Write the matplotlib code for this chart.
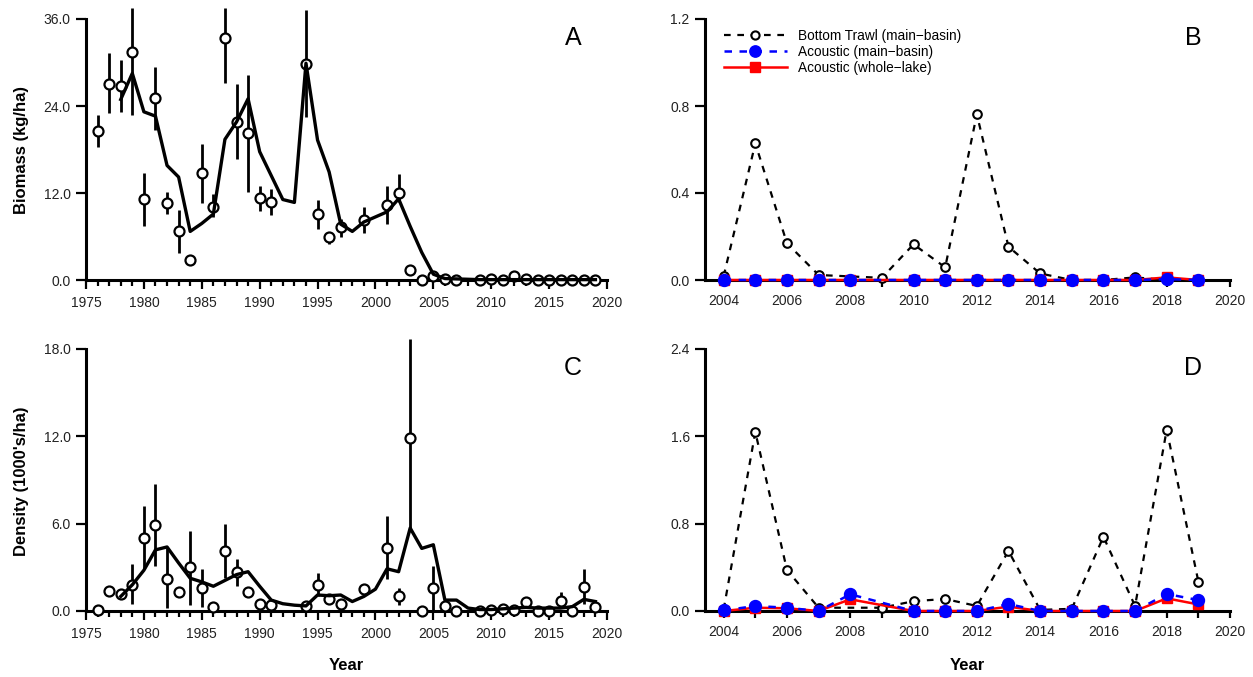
import matplotlib
matplotlib.use("Agg")
import matplotlib.pyplot as plt
from matplotlib.ticker import MultipleLocator, FormatStrFormatter

plt.rcParams['font.family'] = ['Liberation Sans', 'DejaVu Sans']

# ---------------- Data: panels A / C (long-term survey) ----------------
pt_years = [1976, 1977, 1978, 1979, 1980, 1981, 1982, 1983, 1984, 1985, 1986,
            1987, 1988, 1989, 1990, 1991, 1994, 1995, 1996, 1997, 1999,
            2001, 2002, 2003, 2004, 2005, 2006, 2007, 2009, 2010, 2011,
            2012, 2013, 2014, 2015, 2016, 2017, 2018, 2019]
biomass = [20.6, 27.1, 26.8, 31.4, 11.2, 25.1, 10.6, 6.7, 2.7, 14.7, 10.1,
           33.4, 21.8, 20.3, 11.3, 10.7, 29.8, 9.1, 5.9, 7.3, 8.3,
           10.4, 12.0, 1.4, 0.0, 0.6, 0.2, 0.0, 0.0, 0.1, 0.05,
           0.6, 0.1, 0.0, 0.0, 0.0, 0.0, 0.0, 0.0]
biomass_lo = [18.4, 23.0, 23.2, 22.7, 7.5, 20.7, 9.1, 3.7, 2.7, 10.6, 8.7,
              27.2, 16.7, 12.1, 9.5, 8.9, 22.5, 7.1, 5.0, 5.9, 6.5,
              7.7, 10.8, 1.4, 0.0, 0.2, 0.2, 0.0, 0.0, 0.1, 0.05,
              0.4, 0.1, 0.0, 0.0, 0.0, 0.0, 0.0, 0.0]
biomass_hi = [22.7, 31.3, 30.4, 37.5, 14.8, 29.4, 12.1, 9.7, 2.7, 18.7, 11.9,
              37.5, 27.0, 28.3, 13.0, 12.6, 37.2, 11.0, 6.6, 8.4, 10.1,
              13.0, 14.6, 1.4, 0.0, 1.0, 0.2, 0.0, 0.0, 0.1, 0.05,
              0.8, 0.1, 0.0, 0.0, 0.0, 0.0, 0.0, 0.0]
density = [0.1, 1.4, 1.2, 1.8, 5.0, 5.9, 2.2, 1.3, 3.0, 1.6, 0.3,
           4.1, 2.7, 1.3, 0.5, 0.4, 0.35, 1.8, 0.8, 0.5, 1.5,
           4.3, 1.0, 11.9, 0.0, 1.6, 0.35, 0.0, 0.0, 0.1, 0.15,
           0.1, 0.6, 0.0, 0.0, 0.7, 0.0, 1.65, 0.25]
density_lo = [0.1, 1.2, 1.1, 0.5, 2.9, 3.1, 0.2, 1.3, 0.4, 0.3, 0.3,
              2.3, 1.7, 1.3, 0.5, 0.4, 0.35, 1.0, 0.8, 0.5, 1.2,
              2.2, 0.4, 5.6, 0.0, 0.1, 0.35, 0.0, 0.0, 0.1, 0.15,
              0.1, 0.4, 0.0, 0.0, 0.3, 0.0, 0.5, 0.25]
density_hi = [0.1, 1.7, 1.4, 3.2, 7.2, 8.7, 4.3, 1.3, 5.5, 2.9, 0.3,
              6.0, 3.6, 1.3, 0.5, 0.4, 0.35, 2.6, 0.8, 0.5, 1.8,
              6.5, 1.6, 18.7, 0.0, 3.1, 0.35, 0.0, 0.0, 0.1, 0.15,
              0.1, 0.9, 0.0, 0.0, 1.3, 0.0, 2.9, 0.25]

trend_years = list(range(1978, 2020))
biomass_trend = [24.9, 28.5, 23.2, 22.6, 15.8, 14.2, 6.7, 7.8, 9.1, 19.4,
                 21.8, 25.0, 17.7, 14.4, 11.1, 10.7, 29.9, 19.3, 14.9, 7.7,
                 6.7, 8.0, 8.7, 9.4, 11.2, 7.4, 3.8, 0.8, 0.2, 0.15,
                 0.1, 0.05, 0.05, 0.05, 0.05, 0.05, 0.05, 0.05, 0.05, 0.05,
                 0.05, 0.05]
density_trend = [1.0, 1.8, 2.8, 4.2, 4.4, 3.3, 2.25, 2.0, 1.7, 2.1,
                 2.5, 2.7, 1.7, 0.75, 0.5, 0.4, 0.35, 1.1, 1.05, 1.1,
                 0.65, 1.0, 1.5, 2.9, 2.7, 5.7, 4.3, 4.55, 0.75, 0.75,
                 0.2, 0.1, 0.1, 0.15, 0.2, 0.25, 0.2, 0.2, 0.2, 0.3,
                 0.8, 0.65]

# ---------------- Data: panels B / D (recent surveys) ----------------
bt_years = [2004, 2005, 2006, 2007, 2009, 2010, 2011, 2012, 2013, 2014,
            2015, 2016, 2017, 2018, 2019]
bt_biomass = [0.018, 0.628, 0.169, 0.023, 0.01, 0.164, 0.058, 0.762, 0.153,
              0.03, 0.0, 0.0, 0.012, 0.0, 0.0]
bt_density = [0.015, 1.64, 0.376, 0.03, 0.03, 0.09, 0.11, 0.046, 0.55,
              0.01, 0.02, 0.68, 0.046, 1.66, 0.27]

ac_years = [2004, 2005, 2006, 2007, 2008, 2010, 2011, 2012, 2013, 2014,
            2015, 2016, 2017, 2018, 2019]
ac_main_biomass = [0.0, 0.0, 0.0, 0.0, 0.0, 0.0, 0.0, 0.0, 0.0, 0.0,
                   0.0, 0.0, 0.0, 0.004, 0.0]
ac_whole_biomass = [0.0, 0.0, 0.0, 0.0, 0.0, 0.0, 0.0, 0.0, 0.0, 0.0,
                    0.0, 0.0, 0.0, 0.012, 0.0]
ac_main_density = [0.005, 0.046, 0.03, 0.0, 0.153, 0.0, 0.0, 0.0, 0.064,
                   0.0, 0.0, 0.0, 0.0, 0.156, 0.10]
ac_whole_density = [0.0, 0.03, 0.025, 0.0, 0.107, 0.0, 0.0, 0.0, 0.04,
                    0.0, 0.0, 0.0, 0.0, 0.116, 0.06]

series_labels = ['Bottom Trawl (main\u2212basin)', 'Acoustic (main\u2212basin)',
                 'Acoustic (whole\u2212lake)']

# ---------------- Figure ----------------
W, H = 1253, 677
fig = plt.figure(figsize=(W / 100, H / 100), dpi=100)


def px_axes(left, right, top, bottom):
    return fig.add_axes([left / W, 1 - bottom / H, (right - left) / W, (bottom - top) / H])


axA = px_axes(86, 607, 19, 280)
axB = px_axes(705, 1230, 19, 280)
axC = px_axes(86, 607, 349, 611)
axD = px_axes(705, 1230, 349, 611)

TICKFS = 10


def style(ax, ymax, ystep, fmt, xlim, xmajor, xminor, xmaj_len, xmin_len):
    for s in ['top', 'right']:
        ax.spines[s].set_visible(False)
    for s in ['left', 'bottom']:
        ax.spines[s].set_linewidth(2.2)
    ax.spines['left'].set_bounds(0, ymax)
    ax.set_ylim(0, ymax)
    ax.set_xlim(*xlim)
    ax.yaxis.set_major_locator(MultipleLocator(ystep))
    ax.yaxis.set_major_formatter(FormatStrFormatter(fmt))
    ax.xaxis.set_major_locator(MultipleLocator(xmajor))
    ax.xaxis.set_minor_locator(MultipleLocator(xminor))
    ax.tick_params(axis='y', direction='out', length=7, width=1.6, pad=4,
                   labelsize=TICKFS, colors='black', labelcolor='#222222')
    ax.tick_params(axis='x', which='major', direction='out', length=xmaj_len,
                   width=1.6, pad=5, labelsize=TICKFS, labelcolor='#222222')
    ax.tick_params(axis='x', which='minor', direction='out', length=xmin_len,
                   width=1.6)
    ax.patch.set_alpha(0)


def long_panel(ax, vals, lo, hi, trend, ymax, ystep, letter):
    yerr = [[v - l for v, l in zip(vals, lo)], [h - v for v, h in zip(vals, hi)]]
    eb = ax.errorbar(pt_years, vals, yerr=yerr, fmt='none', ecolor='black',
                     elinewidth=2.0, capsize=0, zorder=2)
    for art in eb.get_children():
        art.set_clip_on(False)
    ax.plot(pt_years, vals, 'o', ms=7.2, mfc='white', mec='black', mew=1.6,
            zorder=3, clip_on=False)
    ax.plot(trend_years, trend, '-', color='black', lw=2.4, zorder=4,
            clip_on=False)
    style(ax, ymax, ystep, '%.1f', (1975, 2020), 5, 1, 6.5, 4.3)
    ax.text(0.935, 0.927, letter, transform=ax.transAxes, fontsize=18,
            ha='center', va='center')


def recent_panel(ax, bt, acm, acw, ymax, ystep, letter, legend=False):
    ax.plot(bt_years, bt, linestyle=(0, (3, 3)), color='black', lw=1.6,
            marker='o', ms=6.2, mfc='white', mec='black', mew=1.5,
            label=series_labels[0], zorder=3, clip_on=False)
    ax.plot(ac_years, acw, '-', color='#ff0000', lw=1.8, marker='s',
            ms=7.5, mfc='#ff0000', mec='#ff0000', zorder=4,
            label=series_labels[2], clip_on=False)
    ax.plot(ac_years, acm, linestyle=(0, (3, 3)), color='#0000ff',
            lw=1.8, marker='o', ms=8.6, mfc='#0000ff', mec='#0000ff',
            zorder=5, label=series_labels[1], clip_on=False)
    style(ax, ymax, ystep, '%.1f', (2003.41, 2020), 2, 1, 5, 5)
    ax.text(0.93, 0.927, letter, transform=ax.transAxes, fontsize=18,
            ha='center', va='center')
    if legend:
        h, l = ax.get_legend_handles_labels()
        order = [l.index(s) for s in series_labels]
        ax.legend([h[i] for i in order], [l[i] for i in order],
                  loc='upper left', bbox_to_anchor=(0.036, 0.962),
                  frameon=False, fontsize=9.8, handlelength=4.6,
                  handletextpad=0.85, labelspacing=0.15, borderpad=0,
                  borderaxespad=0, markerscale=0.95)


long_panel(axA, biomass, biomass_lo, biomass_hi, biomass_trend, 36, 12, 'A')
long_panel(axC, density, density_lo, density_hi, density_trend, 18, 6, 'C')
recent_panel(axB, bt_biomass, ac_main_biomass, ac_whole_biomass, 1.2, 0.4, 'B', legend=True)
recent_panel(axD, bt_density, ac_main_density, ac_whole_density, 2.4, 0.8, 'D')

fig.text(22 / W, 1 - 150 / H, 'Biomass (kg/ha)', rotation=90, fontsize=12,
         fontweight='bold', ha='center', va='center')
fig.text(22 / W, 1 - 481 / H, "Density (1000's/ha)", rotation=90, fontsize=12,
         fontweight='bold', ha='center', va='center')
fig.text(346 / W, 1 - 665 / H, 'Year', fontsize=12, fontweight='bold',
         ha='center', va='center')
fig.text(967 / W, 1 - 665 / H, 'Year', fontsize=12, fontweight='bold',
         ha='center', va='center')

fig.savefig('out.png', dpi=100)
